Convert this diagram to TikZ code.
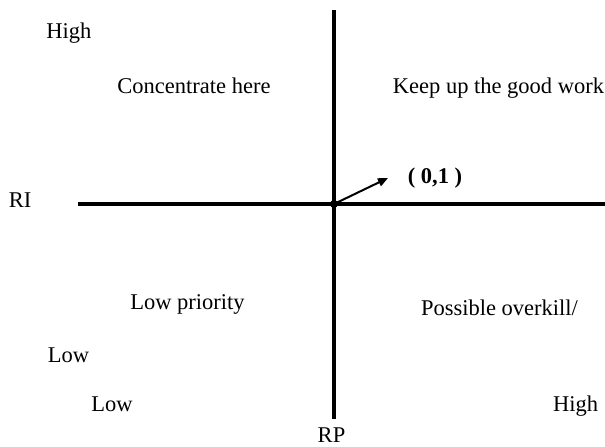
\documentclass[tikz,border=0pt]{standalone}
\usepackage{fontspec}
\setmainfont{Liberation Serif}
\usetikzlibrary{arrows.meta}

\begin{document}
\begin{tikzpicture}[x=0.5pt,y=-0.5pt,font=\fontsize{11.25}{13}\selectfont,>={Triangle[length=5pt,width=4.2pt]},
  axis/.style={line width=2pt},
  lbl/.style={anchor=base,inner sep=0pt}]
  \useasboundingbox (0,0) rectangle (605,446);
  % axes
  \node[circle,fill,inner sep=0pt,minimum size=4pt] (origin) at (334,204){};
  \coordinate (top) at (334,10);
  \coordinate (bottom) at (334,419);
  \coordinate (left) at (78,204);
  \coordinate (right) at (605,204);
  \draw[axis] (top) -- (bottom);
  \draw[axis] (left) -- (right);
  % labels
  \foreach \x/\y/\name/\txt in {69/38/HighY/High,194/93/Concentrate/Concentrate here,
      498.5/93/Keep/Keep up the good work,20/207/RI/RI,187.5/309/LowPrio/Low priority,
      499.5/315/Overkill/{Possible overkill/},68.5/362/LowY/Low,112/411/LowX/Low,
      575.5/411/HighX/High,331.5/442/RP/RP}{
    \node[lbl] (l\name) at (\x,\y){\txt};
  }
  % vector
  \coordinate (tip) at (388,178);
  \draw[->,line width=1pt] (origin.center) -- (tip);
  \node[lbl,font=\fontsize{11.25}{13}\selectfont\bfseries] (vec) at (435,183){(\hspace{0.25em}0,1\hspace{0.25em})};
\end{tikzpicture}
\end{document}
